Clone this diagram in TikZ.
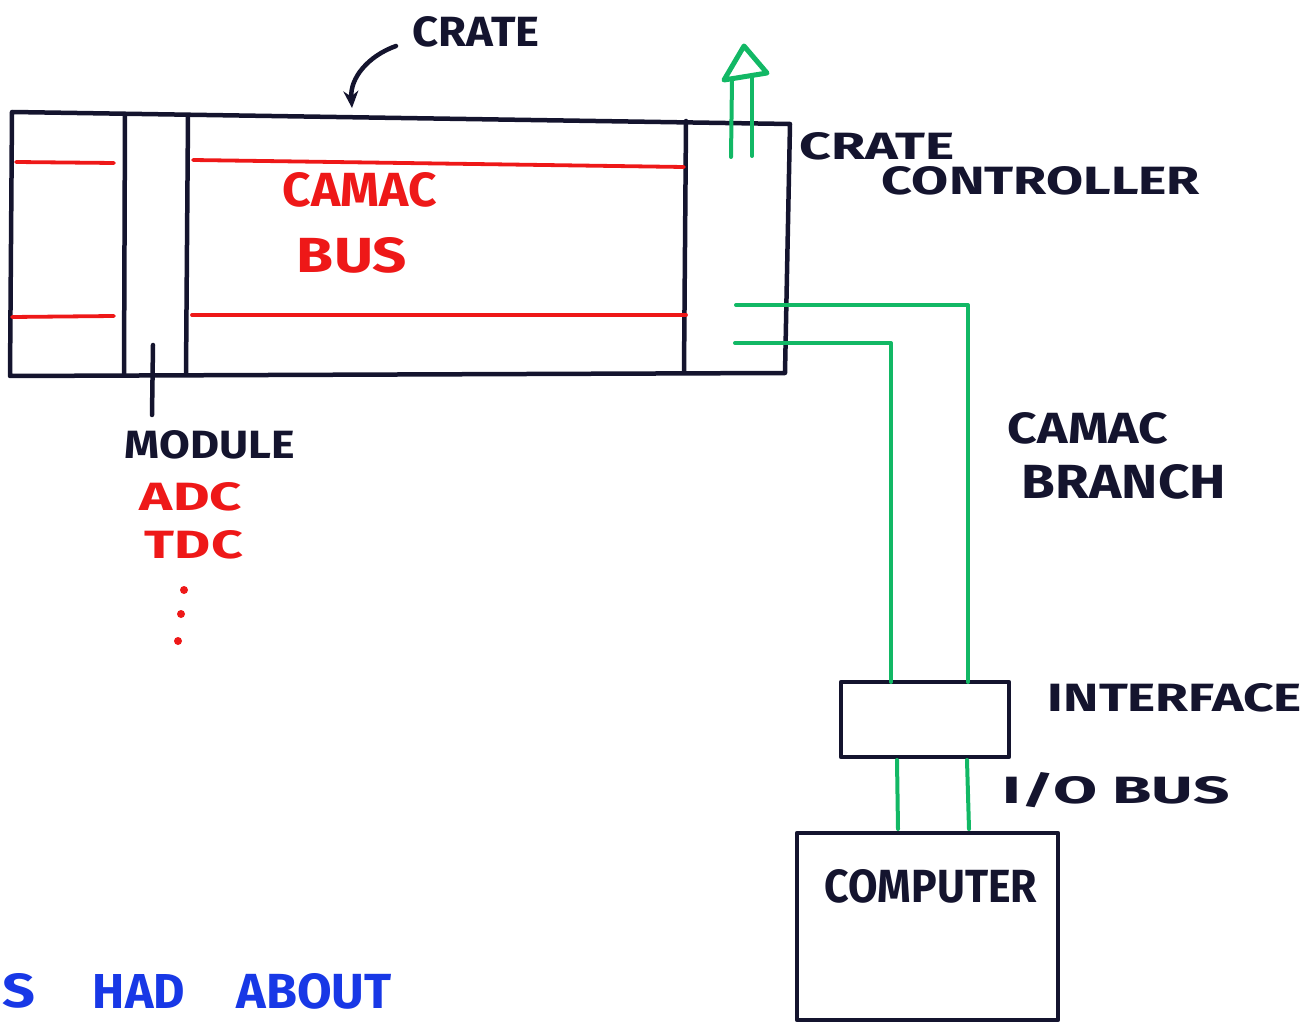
\documentclass[tikz,border=0pt]{standalone}
\usepackage{fontspec}
\setmainfont{Fira Sans}
\usepackage{graphicx}
\usetikzlibrary{arrows.meta}
\definecolor{ink}{HTML}{14142E}
\definecolor{rd}{HTML}{EE1818}
\definecolor{gr}{HTML}{12B865}
\definecolor{bl}{HTML}{1838E6}
\newcommand\lbl[3]{\resizebox{#1pt}{#2pt}{\bfseries #3}}
\begin{document}
\begin{tikzpicture}[x=1pt,y=-1pt,line cap=round,line join=round,
  inkline/.style={draw=ink,line width=4.5},
  redline/.style={draw=rd,line width=3.8},
  grline/.style={draw=gr,line width=4},
  lab/.style={inner sep=0pt,text=ink},
  rlab/.style={inner sep=0pt,text=rd},
  blab/.style={inner sep=0pt,text=bl},
  boxn/.style={draw=ink,line width=4.5,inner sep=0pt,rectangle}]
\useasboundingbox (0,0) rectangle (1310,1024);
% crate outline
\coordinate (ctl) at (12,112);
\coordinate (ctr) at (790,124);
\coordinate (cbr) at (785,373);
\coordinate (cbl) at (10,376);
\draw[inkline] (ctl) -- (ctr) -- (cbr) -- (cbl) -- cycle;
% slot dividers
\coordinate (s1t) at (125,115); \coordinate (s1b) at (124,375);
\coordinate (s2t) at (188,116); \coordinate (s2b) at (186,374);
\coordinate (s3t) at (686,121); \coordinate (s3b) at (684,372);
\draw[inkline] (s1t) -- (s1b);
\draw[inkline] (s2t) -- (s2b);
\draw[inkline] (s3t) -- (s3b);
% red bus lines
\coordinate (ra1) at (16,162); \coordinate (ra2) at (114,163);
\coordinate (rb1) at (12,317); \coordinate (rb2) at (114,316);
\coordinate (rc1) at (193,160); \coordinate (rc2) at (684,167);
\coordinate (rd1) at (192,315); \coordinate (rd2) at (686,315);
\draw[redline] (ra1) -- (ra2);
\draw[redline] (rb1) -- (rb2);
\draw[redline] (rc1) -- (rc2);
\draw[redline] (rd1) -- (rd2);
% labels inside crate
\node[rlab] (camacbus1) at (360,190) {\lbl{154}{34}{CAMAC}};
\node[rlab] (camacbus2) at (352,255) {\lbl{110}{35}{BUS}};
% CRATE label and arrow
\node[lab] (crate) at (476,32) {\lbl{127}{30}{CRATE}};
\coordinate (crA) at (396,46);
\coordinate (crB) at (352,108);
\draw[draw=ink,line width=4.5,-{Stealth[length=17pt,width=15pt]}] (crA) .. controls (368,56) and (350,78) .. (crB);
% up arrow from controller
\coordinate (ua1) at (731,157); \coordinate (ua2) at (732,80);
\coordinate (ub1) at (752,156); \coordinate (ub2) at (752,76);
\draw[grline] (ua1) -- (ua2);
\draw[grline] (ub1) -- (ub2);
\coordinate (uh1) at (724,80); \coordinate (uh2) at (744,46); \coordinate (uh3) at (767,73);
\draw[grline,line width=5] (uh1) -- (uh2) -- (uh3) -- cycle;
% crate controller label
\node[lab] (cc1lab) at (877,146) {\lbl{155}{27}{CRATE}};
\node[lab] (cc2lab) at (1041,181) {\lbl{318}{28}{CONTROLLER}};
% module pointer and labels
\coordinate (mp1) at (153,345); \coordinate (mp2) at (152,415);
\draw[inkline] (mp1) -- (mp2);
\node[lab] (module) at (210,445) {\lbl{170}{28}{MODULE}};
\node[rlab] (adc) at (191,497) {\lbl{102}{28}{ADC}};
\node[rlab] (tdc) at (194,545) {\lbl{98}{28}{TDC}};
\fill[rd] (184,590) circle (4) (181,614) circle (4) (178,641) circle (4);
% interface and computer
\node[boxn,minimum width=168pt,minimum height=75pt] (iface) at (925,719.5) {};
\node[boxn,minimum width=261pt,minimum height=187pt] (comp) at (927.5,926.5) {};
\node[lab] (complab) at (931,886) {\lbl{212}{33}{COMPUTER}};
\node[lab] (ifacelab) at (1175,698) {\lbl{254}{28}{INTERFACE}};
\node[lab] (iolab) at (1116,790) {\lbl{227}{31}{I/O BUS}};
% camac branch
\coordinate (cb1) at (736,305); \coordinate (cb2) at (735,343);
\coordinate (ifB) at (968,682); \coordinate (ifA) at (891,682);
\draw[grline] (cb1) -| (ifB);
\draw[grline] (cb2) -| (ifA);
\node[lab] (branch1) at (1088,428) {\lbl{160}{31}{CAMAC}};
\node[lab] (branch2) at (1124,482) {\lbl{204}{34}{BRANCH}};
% I/O bus
\coordinate (io1t) at (897,760); \coordinate (io1b) at (898,829);
\coordinate (io2t) at (967,760); \coordinate (io2b) at (969,829);
\draw[grline] (io1t) -- (io1b);
\draw[grline] (io2t) -- (io2b);
% bottom blue text
\node[blab] (w1) at (0,991) {\lbl{70}{34}{US}};
\node[blab] (w2) at (139,991) {\lbl{92}{34}{HAD}};
\node[blab] (w3) at (314,991) {\lbl{155}{35}{ABOUT}};
\end{tikzpicture}
\end{document}
